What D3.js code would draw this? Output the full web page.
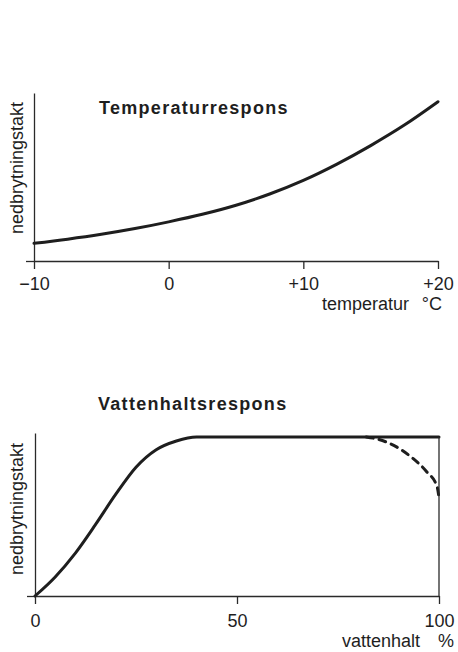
<!DOCTYPE html>
<html>
<head>
<meta charset="utf-8">
<script src="https://cdn.jsdelivr.net/npm/d3@7"></script>
<style>
  body { margin: 0; background: #fff; }
  svg { display: block; font-family: 'Liberation Sans', Arial, Helvetica, sans-serif; fill: #1e1e1e; }
  .title { font-weight: bold; font-size: 18px; letter-spacing: 1.3px; }
  .axis-label { font-size: 18px; }
  .axis .tick text { font-size: 18px; fill: #1e1e1e; }
  .axis path, .axis line { stroke: #2a2a2a; stroke-width: 1.3; }
</style>
</head>
<body>
<svg class="chart" width="458" height="652"></svg>
<script>
// temperaturrespons (relative rate)
const tempX = [-10, -7.5, -5, -2.5, 0, 2.5, 5, 7.5, 10, 12.5, 15, 17.5, 20];
const tempRate = [0.105, 0.13, 0.159, 0.193, 0.233, 0.278, 0.332, 0.399, 0.48, 0.577, 0.687, 0.809, 0.948];
const tempTicks = [-10, 0, 10, 20];
const tempTickLabels = ['\u221210', '0', '+10', '+20'];

// vattenhaltsrespons, solid and dashed (wet end) curves
const waterX = [0, 5, 10, 15, 20, 25, 30, 35, 40, 100];
const waterRate = [0, 0.12, 0.27, 0.45, 0.64, 0.81, 0.92, 0.975, 1, 1];
const wetX = [82, 85, 90, 93.5, 97, 99.5, 100];
const wetRate = [1, 0.985, 0.93, 0.866, 0.78, 0.69, 0.62];
const waterTicks = [0, 50, 100];
const waterTickLabels = ['0', '50', '100'];

const svg = d3.select('.chart');

const drawPanel = (cfg) => {
  const x = d3.scaleLinear().domain(cfg.xDomain).range(cfg.xRange);
  const y = d3.scaleLinear().domain(cfg.yDomain).range(cfg.yRange);
  const g = svg.append('g');

  g.append('g')
    .attr('class', 'axis')
    .attr('transform', `translate(0, ${y(0)})`)
    .call(d3.axisBottom(x)
      .tickValues(cfg.ticks)
      .tickSize(8)
      .tickSizeOuter(0)
      .tickPadding(cfg.tickPadding)
      .tickFormat((d, i) => cfg.tickLabels[i]));

  g.append('g')
    .attr('class', 'axis')
    .attr('transform', `translate(${x(cfg.xDomain[0])}, 0)`)
    .call(d3.axisLeft(y).tickValues([0]).tickSize(8).tickSizeOuter(0).tickFormat(''));

  g.selectAll('.axis .tick text').attr('font-family', null);

  const line = d3.line()
    .x(d => x(d[0]))
    .y(d => y(d[1]))
    .curve(d3.curveMonotoneX);

  cfg.series.forEach(s => {
    g.append('path')
      .datum(d3.zip(s.x, s.y))
      .attr('d', line)
      .attr('fill', 'none')
      .attr('stroke', '#1e1e1e')
      .attr('stroke-width', 3)
      .attr('stroke-linecap', 'round')
      .attr('stroke-dasharray', s.dash || null);
  });

  if (cfg.rightLine) {
    g.append('line')
      .attr('x1', x(cfg.xDomain[1])).attr('x2', x(cfg.xDomain[1]))
      .attr('y1', y(0)).attr('y2', y(1))
      .attr('stroke', '#2a2a2a').attr('stroke-width', 1.3);
  }

  g.append('text')
    .attr('class', 'title')
    .attr('x', cfg.titlePos[0]).attr('y', cfg.titlePos[1])
    .text(cfg.title);

  g.append('text')
    .attr('class', 'axis-label')
    .attr('text-anchor', 'middle')
    .attr('transform', `translate(23, ${cfg.yLabelCenter}) rotate(-90)`)
    .text('nedbrytningstakt');

  g.append('text')
    .attr('class', 'axis-label')
    .attr('text-anchor', 'end')
    .attr('x', cfg.xLabelPos[0]).attr('y', cfg.xLabelPos[2])
    .text(cfg.xLabel);
  g.append('text')
    .attr('class', 'axis-label')
    .attr('text-anchor', 'end')
    .attr('x', cfg.xLabelPos[1]).attr('y', cfg.xLabelPos[2])
    .text(cfg.xUnit);
};

drawPanel({
  xDomain: [-10, 20], xRange: [34, 438],
  yDomain: [0, 1], yRange: [261, 93],
  ticks: tempTicks, tickLabels: tempTickLabels, tickPadding: 8,
  series: [{ x: tempX, y: tempRate }],
  title: 'Temperaturrespons', titlePos: [99, 114],
  yLabelCenter: 168,
  xLabel: 'temperatur', xUnit: '\u00b0C', xLabelPos: [409, 442, 310],
});

drawPanel({
  xDomain: [0, 100], xRange: [35, 439],
  yDomain: [0, 1.025], yRange: [596, 433],
  ticks: waterTicks, tickLabels: waterTickLabels, tickPadding: 10,
  series: [{ x: waterX, y: waterRate }, { x: wetX, y: wetRate, dash: '7,6' }],
  rightLine: true,
  title: 'Vattenhaltsrespons', titlePos: [98, 410],
  yLabelCenter: 509,
  xLabel: 'vattenhalt', xUnit: '%', xLabelPos: [420, 454, 647],
});
</script>
</body>
</html>
